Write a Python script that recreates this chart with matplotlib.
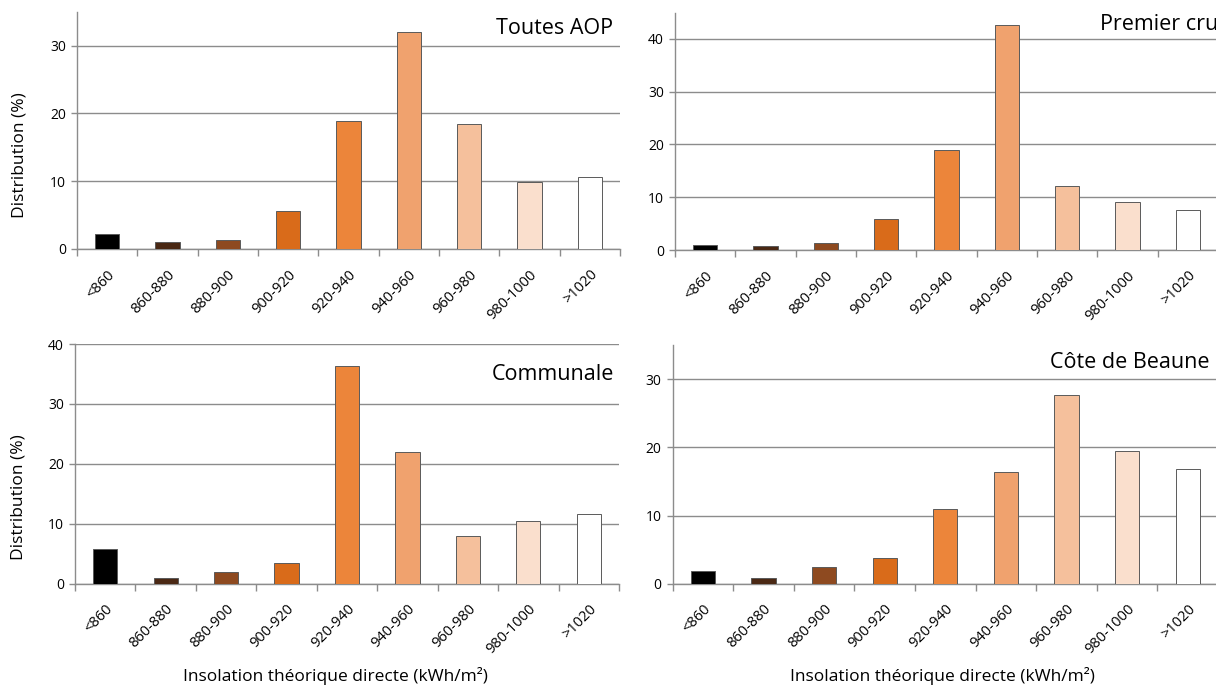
import matplotlib
matplotlib.use("Agg")
import matplotlib.pyplot as plt
import numpy as np

plt.rcParams['font.family'] = ['Open Sans', 'DejaVu Sans']

categories = ["<860", "860-880", "880-900", "900-920", "920-940",
              "940-960", "960-980", "980-1000", ">1020"]
colors = ["#000000", "#4a2814", "#8e4a20", "#d96b1a", "#ec853a",
          "#f0a26e", "#f5c09c", "#fadfcd", "#ffffff"]

toutes_aop = [2.2, 1.1, 1.4, 5.65, 18.9, 32.0, 18.5, 9.9, 10.6]
premier_cru = [0.9, 0.8, 1.4, 5.8, 19.0, 42.7, 12.2, 9.1, 7.5]
communale = [5.8, 0.9, 1.9, 3.5, 36.3, 22.0, 8.0, 10.5, 11.7]
cote_de_beaune = [1.9, 0.9, 2.5, 3.8, 11.0, 16.35, 27.6, 19.4, 16.8]

titles = ["Toutes AOP", "Premier cru", "Communale", "Côte de Beaune"]
yticks = [[0, 10, 20, 30], [0, 10, 20, 30, 40], [0, 10, 20, 30, 40], [0, 10, 20, 30]]
ylims = [35, 45, 40, 35]

W, H = 1216, 686
fig = plt.figure(figsize=(W / 100, H / 100), dpi=100)

# axes rectangles in pixels: left, right, top(at ylim), bottom(at 0)
rects = [(77, 620, 11.6, 249),
         (675, 1218, 12.6, 250),
         (75, 619, 344, 583.7),
         (672.7, 1218, 345, 583.7)]

datasets = [toutes_aop, premier_cru, communale, cote_de_beaune]
grid_col = "#8c8c8c"

axes = []
for i, (l, r, t, b) in enumerate(rects):
    ax = fig.add_axes([l / W, 1 - b / H, (r - l) / W, (b - t) / H])
    axes.append(ax)
    x = np.arange(len(categories))
    ax.bar(x, datasets[i], width=0.4, color=colors, edgecolor="#5a5a5a",
           linewidth=0.7, zorder=3)
    ax.set_xlim(-0.5, len(categories) - 0.5)
    ax.set_ylim(0, ylims[i])
    ax.set_yticks(yticks[i])
    ax.yaxis.grid(True, color=grid_col, linewidth=1.0, zorder=0)
    ax.set_axisbelow(True)
    for s in ["top", "right"]:
        ax.spines[s].set_visible(False)
    ax.spines["left"].set_color(grid_col)
    ax.spines["bottom"].set_color(grid_col)
    ax.spines["left"].set_linewidth(1.0)
    ax.spines["bottom"].set_linewidth(1.0)
    ax.set_xticks(x)
    ax.set_xticklabels(categories, rotation=45, ha="right",
                       rotation_mode="anchor", fontsize=10.5)
    ax.tick_params(axis="x", which="major", length=0, pad=13)
    ax.set_xticks(np.arange(len(categories) + 1) - 0.5, minor=True)
    ax.tick_params(axis="x", which="minor", length=5, color=grid_col, width=1.0)
    ax.tick_params(axis="y", length=4, color=grid_col, width=1.0,
                   labelsize=10, pad=4)

axes[0].set_ylabel("Distribution (%)", fontsize=12.5)
axes[2].set_ylabel("Distribution (%)", fontsize=12.5)
axes[0].yaxis.set_label_coords(-0.092, 0.396)
axes[2].yaxis.set_label_coords(-0.090, 0.362)

xlabel = "Insolation théorique directe (kWh/m²)"
fig.text(335 / W, 1 - 676 / H, xlabel, ha="center", va="center", fontsize=12.5)
fig.text(942 / W, 1 - 676 / H, xlabel, ha="center", va="center", fontsize=12.5)

fig.text(613 / W, 1 - 28 / H, titles[0], ha="right", va="center", fontsize=15.5)
fig.text(1100 / W, 1 - 25 / H, titles[1], ha="left", va="center", fontsize=15.5)
fig.text(614 / W, 1 - 374 / H, titles[2], ha="right", va="center", fontsize=15.5)
fig.text(1210 / W, 1 - 363 / H, titles[3], ha="right", va="center", fontsize=15.5)

fig.savefig("out.png", dpi=100, facecolor="white")
